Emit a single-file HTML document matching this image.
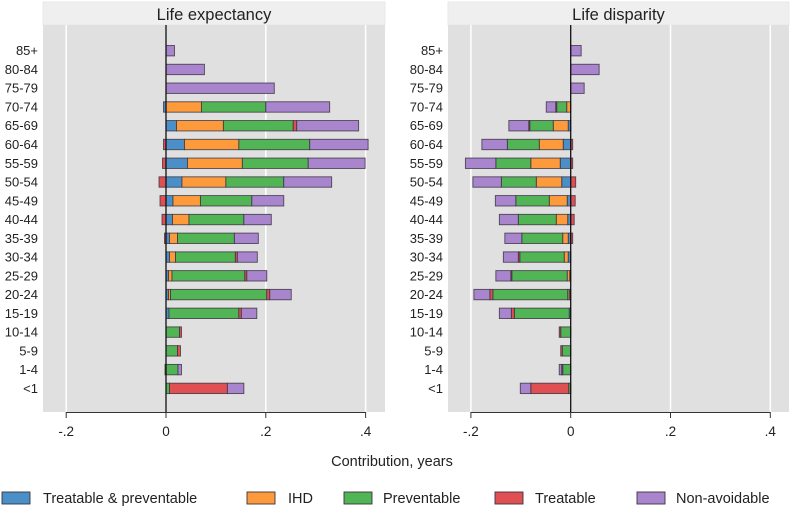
<!DOCTYPE html>
<html><head><meta charset="utf-8">
<style>
body{margin:0;background:#fff;width:792px;height:510px;overflow:hidden;font-family:"Liberation Sans",Arial,sans-serif;}
svg text{font-family:"Liberation Sans",Arial,sans-serif;fill:#222;}
</style></head>
<body>
<svg id="chart" width="792" height="510" xmlns="http://www.w3.org/2000/svg"></svg>
<script>
const ages = ["85+","80-84","75-79","70-74","65-69","60-64","55-59","50-54","45-49","40-44","35-39","30-34","25-29","20-24","15-19","10-14","5-9","1-4","<1"];
const causes = ["Treatable & preventable","IHD","Preventable","Treatable","Non-avoidable"];
const colors = ["#4a8fc7","#fd9a3c","#52b555","#e05052","#a985ce"];
// life expectancy: [TP, IHD, Prev, Treat, NonAvoid]
const leTP    = [0,0,0,-0.005,0.021,0.037,0.043,0.032,0.014,0.013,0.007,0.007,0.005,0.005,0.006,0,0,0,0];
const leIHD   = [0,0,0,0.071,0.094,0.109,0.110,0.088,0.055,0.033,0.016,0.012,0.007,0.004,0,0,0,0,0];
const lePrev  = [0,0,0,0.129,0.140,0.142,0.132,0.116,0.103,0.110,0.114,0.120,0.146,0.193,0.140,0.027,0.023,0.024,0.007];
const leTreat = [0,0,0,0,0.007,-0.005,-0.007,-0.014,-0.012,-0.008,-0.003,0.004,0.004,0.006,0.005,0.004,0.006,-0.002,0.116];
const leNon   = [0.017,0.077,0.217,0.128,0.124,0.117,0.114,0.096,0.064,0.055,0.048,0.040,0.040,0.043,0.031,0,0,0.007,0.033];
// life disparity
const ldTP    = [0,0,0,0,-0.005,-0.015,-0.021,-0.018,-0.007,-0.006,-0.005,-0.005,-0.002,-0.003,-0.003,0,0,0,0];
const ldIHD   = [0,0,0,-0.008,-0.030,-0.048,-0.059,-0.051,-0.036,-0.023,-0.011,-0.008,-0.005,-0.003,0,0,0,0,0];
const ldPrev  = [0,0,0,-0.020,-0.047,-0.064,-0.070,-0.070,-0.067,-0.076,-0.082,-0.089,-0.111,-0.150,-0.110,-0.020,-0.017,-0.016,-0.004];
const ldTreat = [0,0,0,-0.002,-0.002,0.004,0.004,0.010,0.009,0.007,0.004,-0.003,-0.002,-0.006,-0.006,-0.003,-0.003,-0.002,-0.076];
const ldNon   = [0.021,0.057,0.027,-0.019,-0.040,-0.051,-0.061,-0.057,-0.041,-0.038,-0.034,-0.030,-0.030,-0.032,-0.024,0,0,-0.005,-0.021];
const xTicks = [-0.2,0,0.2,0.4];
const xTickLabels = ["-.2","0",".2",".4"];

const svg = document.getElementById('chart');
const NS = "http://www.w3.org/2000/svg";
function mk(tag, attrs, parent){const e=document.createElementNS(NS,tag);for(const k in attrs)e.setAttribute(k,attrs[k]);(parent||svg).appendChild(e);return e;}

const rowY = i => 50.7 + i*18.76;
const panels = [
  {name:"life-expectancy", title:"Life expectancy", x0:43, x1:385, zero:166, series:[leTP,leIHD,lePrev,leTreat,leNon]},
  {name:"life-disparity", title:"Life disparity", x0:448, x1:789, zero:570.7, series:[ldTP,ldIHD,ldPrev,ldTreat,ldNon]}
];
const pxPerUnit = 499;

panels.forEach(p=>{
  const xs = v => p.zero + v*pxPerUnit;
  const g = mk('g',{});
  
  
  const hdr = mk('rect',{x:p.x0,y:2,width:p.x1-p.x0,height:23,fill:'#efefef',stroke:'#e6eaee'},g);
  
  
  const t = mk('text',{x:(p.x0+p.x1)/2,y:20,'text-anchor':'middle','font-size':'16.5'},g);
  t.textContent = p.title;
  
  
  const bg = mk('rect',{x:p.x0,y:25,width:p.x1-p.x0,height:387,fill:'#e0e0e0'},g);
  
  
  xTicks.forEach((tv,i)=>{
    const x = xs(tv);
    if(tv!==0){const gl=mk('line',{x1:x,x2:x,y1:25,y2:412,stroke:'#fff','stroke-width':1.5},g);
      
      }
    const tk = mk('line',{x1:x,x2:x,y1:412,y2:418,stroke:'#333'},g);
    
    
    const lb = mk('text',{x:x,y:436,'text-anchor':'middle','font-size':'13.5'},g);
    lb.textContent = xTickLabels[i];
    
    
  });
  const ax = mk('line',{x1:xs(-0.2),x2:xs(0.4),y1:412.5,y2:412.5,stroke:'#333'},g);
  
  
  ages.forEach((a,i)=>{
    const y = rowY(i);
    const lb = mk('text',{x:p.x0-5,y:y+4.5,'text-anchor':'end','font-size':'13'},g);
    lb.textContent = a;
    
    
    let pos=0, neg=0;
    p.series.forEach((s,k)=>{
      const v = s[i]; if(!v) return;
      let a0,a1;
      if(v>0){a0=pos;a1=pos+v;pos=a1;} else {a1=neg;a0=neg+v;neg=a0;}
      const r = mk('rect',{x:xs(a0),y:y-5.2,width:Math.max(0.5,xs(a1)-xs(a0)),height:10.4,fill:colors[k],stroke:'#3a3340','stroke-width':0.9,'stroke-opacity':0.85},g);
      
      
    });
  });
  const zl = mk('line',{x1:p.zero,x2:p.zero,y1:25,y2:412,stroke:'#111','stroke-width':1.3},g);
  
  
});

const xt = mk('text',{x:392,y:466,'text-anchor':'middle','font-size':'14.5'});
xt.textContent = "Contribution, years";



const legX = [2,247,344,495,637];
const legT = [43,288,383,535,676];
causes.forEach((c,k)=>{
  const sw = mk('rect',{x:legX[k],y:492,width:28,height:12,fill:colors[k],stroke:'#3a3340','stroke-width':0.9});
  
  
  const lt = mk('text',{x:legT[k],y:503,'font-size':'14.5'});
  lt.textContent = c;
  
  
});
</script>
</body></html>
